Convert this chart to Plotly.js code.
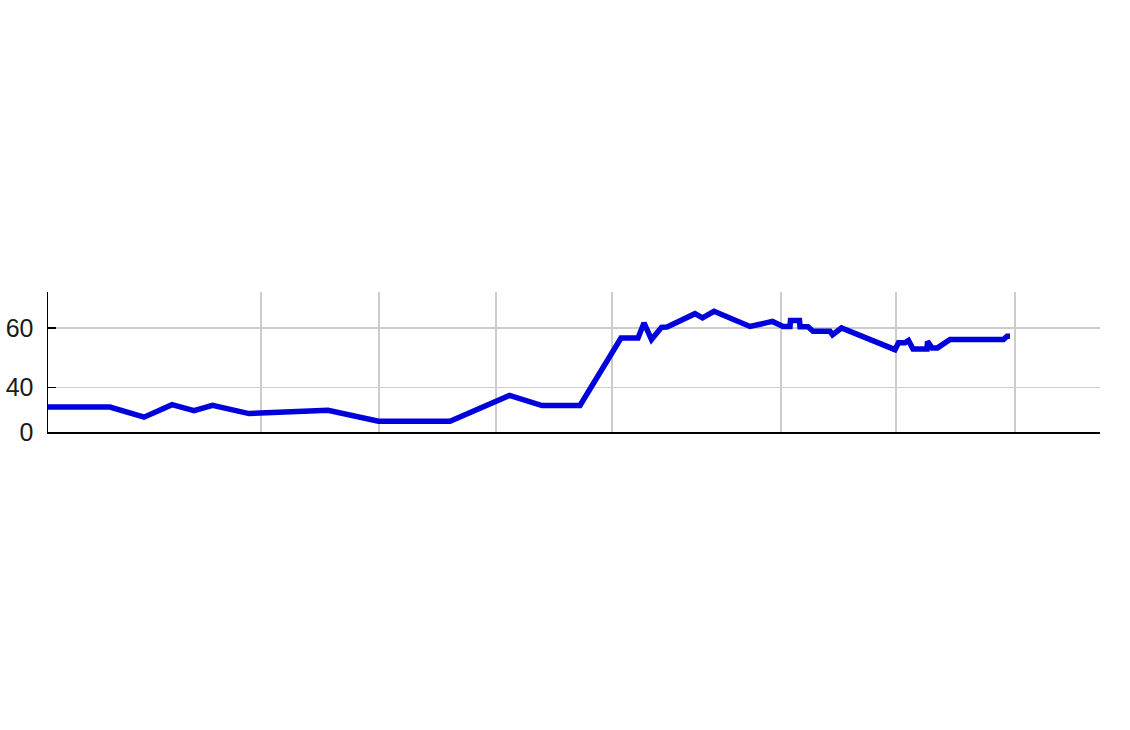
<!DOCTYPE html>
<html>
<head>
<meta charset="utf-8">
<script src="https://cdn.plot.ly/plotly-3.0.1.min.js"></script>
<style>
  html, body { margin: 0; padding: 0; background: #fff; }
  #chart { width: 1130px; height: 730px; }
</style>
</head>
<body>
<div id="chart"></div>
<script>
// x positions along the time axis (arbitrary units) and series values
const xValues = [
  0, 6.2, 9.6, 12.4, 14.6, 16.45, 20.1, 28.0, 33.05, 40.2,
  46.15, 49.4, 53.2, 57.3, 59.0, 59.6, 60.35, 61.35, 61.9, 64.7,
  65.45, 66.6, 70.2, 72.45, 73.5, 74.2, 74.25, 75.15, 75.2, 76.0,
  76.5, 78.2, 78.45, 79.35, 84.7, 85.05, 85.7, 86.05, 86.5, 87.9,
  87.95, 88.4, 88.95, 90.2, 95.55, 95.9, 96.2,
];
const yValues = [
  33.4, 33.4, 30.0, 34.2, 32.2, 34.0, 31.2, 32.3, 28.6, 28.6,
  37.3, 33.9, 33.9, 56.6, 56.6, 61.7, 56.1, 60.2, 60.3, 64.8,
  63.4, 65.6, 60.5, 62.2, 60.5, 60.5, 62.5, 62.5, 60.4, 60.4,
  58.9, 58.9, 57.7, 60.0, 52.7, 55.0, 55.0, 55.8, 52.9, 52.9,
  55.5, 53.3, 53.3, 56.1, 56.1, 57.2, 57.2,
];

// vertical grid positions (no labels shown)
const xGrid = [21.3, 33.1, 44.8, 56.4, 73.3, 84.8, 96.7];

// y tick positions and their labels
const yTickVals = [25, 40, 60];
const yTickText = ["0", "40", "60"];

const trace = {
  x: xValues,
  y: yValues,
  mode: "lines",
  line: { color: "rgb(0,0,220)", width: 5.5 },
  hoverinfo: "skip",
  showlegend: false,
};

const layout = {
  width: 1130,
  height: 730,
  paper_bgcolor: "#fff",
  plot_bgcolor: "#fff",
  margin: { t: 292, b: 298, l: 48, r: 30 },
  font: { family: "Liberation Sans, Arial, sans-serif", size: 25, color: "#1a1a1a" },
  xaxis: {
    range: [0, 105.2],
    tickvals: xGrid,
    showticklabels: false,
    ticks: "",
    showgrid: true,
    gridcolor: "#cccccc",
    gridwidth: 1.5,
    zeroline: false,
    showline: true,
    linecolor: "#000",
    linewidth: 1.5,
  },
  yaxis: {
    range: [25, 72.1],
    tickvals: yTickVals,
    ticktext: yTickText,
    ticks: "inside",
    ticklen: 8,
    tickcolor: "#000",
    tickwidth: 1.5,
    showgrid: true,
    gridcolor: "#cccccc",
    gridwidth: 1.5,
    zeroline: false,
    showline: true,
    linecolor: "#000",
    linewidth: 1.5,
    ticklabelstandoff: 8,
  },
};

Plotly.newPlot("chart", [trace], layout, { displayModeBar: false, staticPlot: true });
</script>
</body>
</html>
